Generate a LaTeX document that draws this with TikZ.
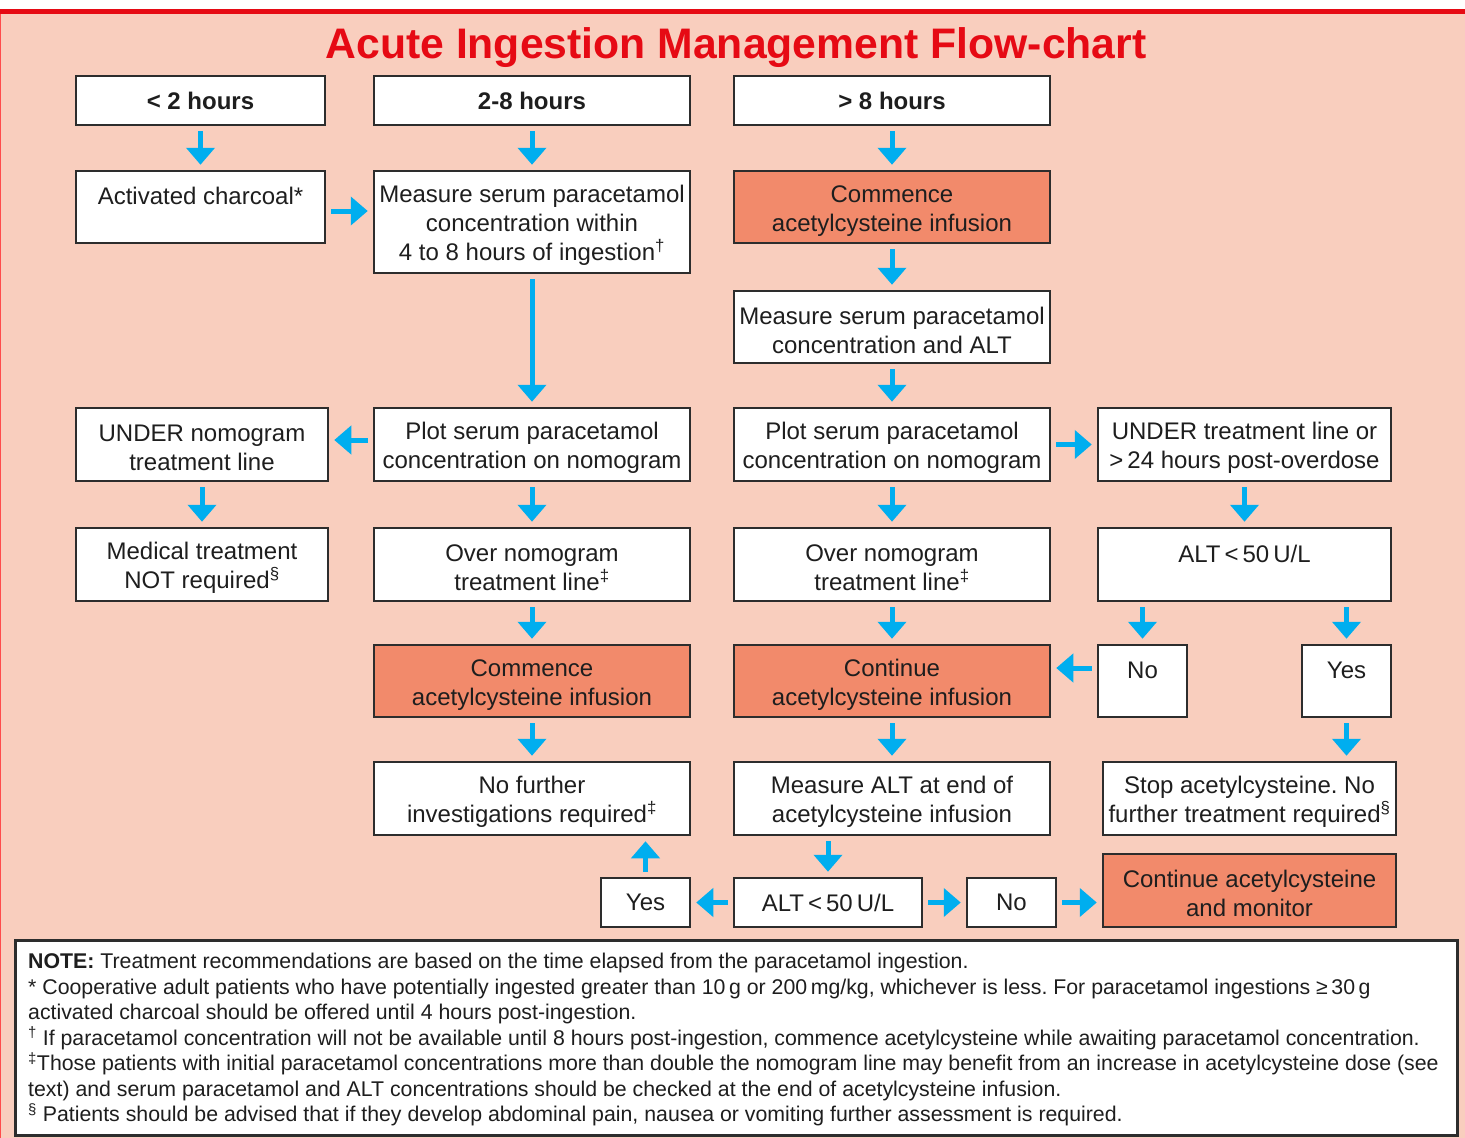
\documentclass[tikz,border=0pt]{standalone}
\usepackage{fontspec}
\setmainfont{Liberation Sans}
\usetikzlibrary{arrows.meta}
\frenchspacing
\definecolor{bgsalmon}{RGB}{249,206,190}
\definecolor{boxorange}{RGB}{242,138,107}
\definecolor{titlered}{RGB}{230,10,20}
\definecolor{arrblue}{RGB}{0,174,239}
\definecolor{edgegray}{RGB}{45,45,45}
\definecolor{txt}{RGB}{30,30,30}
\newcommand{\mybox}[7]{%
  \node[fcbox,#6,minimum width={#4-#2},minimum height={#5-#3}] (#1) at ({(#2+#4)/2},{(#3+#5)/2}) {#7};}
\newcommand{\tp}{\rule{0pt}{24pt}}
\begin{document}
\begin{tikzpicture}[x=1pt,y=-1pt,
  fcbox/.style={draw=edgegray,line width=2.5pt,fill=white,align=center,inner sep=0pt,
    text=txt,font=\fontsize{24}{29}\selectfont},
  hot/.style={fill=boxorange},
  hdr/.style={font=\fontsize{24}{29}\selectfont\bfseries},
  arr/.style={draw=arrblue,line width=5pt,-{Triangle[width=28pt,length=17pt]},
    shorten <=5pt,shorten >=5pt}]
\useasboundingbox (0,0) rectangle (1465,1138);
\fill[white] (0,0) rectangle (1465,1138);
\fill[bgsalmon] (0,12) rectangle (1465,1138);
\draw[red!70!white,line width=1.2pt] (0.6,12) -- (0.6,1138);
\draw[titlered,line width=5pt] (0,11.5) -- (1465,11.5);
\node[anchor=base,text=titlered,font=\fontsize{42.7}{50}\selectfont\bfseries,inner sep=0pt] (title) at (736,58) {Acute Ingestion Management Flow-chart};
% headers
\mybox{h1}{76}{76}{325}{125}{hdr}{< 2 hours}
\mybox{h2}{374}{76}{690}{125}{hdr}{2-8 hours}
\mybox{h3}{734}{76}{1050}{125}{hdr}{> 8 hours}
% row 2
\mybox{char}{76}{171}{325}{243}{}{\tp Activated charcoal*\\ \mbox{}}
\mybox{meas1}{374}{171}{690}{273}{}{\tp Measure serum paracetamol\\concentration within\\4 to 8 hours of ingestion\textsuperscript{†}}
\mybox{comm1}{734}{171}{1050}{243}{hot}{\tp Commence\\acetylcysteine infusion}
\mybox{meas2}{734}{291}{1050}{363}{}{\tp Measure serum paracetamol\\concentration and ALT}
% row 4
\mybox{under1}{76}{408}{328}{481}{}{\tp UNDER nomogram\\treatment line}
\mybox{plot1}{374}{408}{690}{481}{}{\tp Plot serum paracetamol\\concentration on nomogram}
\mybox{plot2}{734}{408}{1050}{481}{}{\tp Plot serum paracetamol\\concentration on nomogram}
\mybox{under2}{1098}{408}{1391}{481}{}{\tp UNDER treatment line or\\>\,24 hours post-overdose}
% row 5
\mybox{med}{76}{528}{328}{601}{}{\tp Medical treatment\\NOT required\textsuperscript{§}}
\mybox{over1}{374}{528}{690}{601}{}{\tp Over nomogram\\treatment line\textsuperscript{‡}}
\mybox{over2}{734}{528}{1050}{601}{}{\tp Over nomogram\\treatment line\textsuperscript{‡}}
\mybox{alt1}{1098}{528}{1391}{601}{}{\tp ALT\,<\,50\,U/L\\ \mbox{}}
% row 6
\mybox{comm2}{374}{645}{690}{717}{hot}{\tp Commence\\acetylcysteine infusion}
\mybox{cont}{734}{645}{1050}{717}{hot}{\tp Continue\\acetylcysteine infusion}
\mybox{no1}{1098}{645}{1187}{717}{}{\tp No\\ \mbox{}}
\mybox{yes1}{1302}{645}{1391}{717}{}{\tp Yes\\ \mbox{}}
% row 7
\mybox{nofur}{374}{762}{690}{835}{}{\tp No further\\investigations required\textsuperscript{‡}}
\mybox{malt}{734}{762}{1050}{835}{}{\tp Measure ALT at end of\\acetylcysteine infusion}
\mybox{stop}{1103}{762}{1396}{835}{}{\tp Stop acetylcysteine. No\\further treatment required\textsuperscript{§}}
% row 8
\mybox{yes2}{601}{878}{690}{927}{}{Yes}
\mybox{alt2}{734}{878}{922}{927}{}{ALT\,<\,50\,U/L}
\mybox{no2}{967}{878}{1056}{927}{}{No}
\mybox{contm}{1103}{854}{1396}{927}{hot}{\tp Continue acetylcysteine\\and monitor}
% note
\node[draw=edgegray,line width=3pt,fill=white,minimum width=1442pt,minimum height=195pt,inner sep=0pt] (notebox) at (736,1037.5) {};
\node[anchor=north west,align=left,inner sep=0pt,text=txt,font=\fontsize{21.3}{25.5}\selectfont] (notetext) at (28,953) {%
\textbf{NOTE:} Treatment recommendations are based on the time elapsed from the paracetamol ingestion.\\
* Cooperative adult patients who have potentially ingested greater than 10\,g or 200\,mg/kg, whichever is less. For paracetamol ingestions ≥\,30\,g\\
activated charcoal should be offered until 4 hours post-ingestion.\\
\textsuperscript{†} If paracetamol concentration will not be available until 8 hours post-ingestion, commence acetylcysteine while awaiting paracetamol concentration.\\
\textsuperscript{‡}Those patients with initial paracetamol concentrations more than double the nomogram line may benefit from an increase in acetylcysteine dose (see\\
text) and serum paracetamol and ALT concentrations should be checked at the end of acetylcysteine infusion.\\
\textsuperscript{§} Patients should be advised that if they develop abdominal pain, nausea or vomiting further assessment is required.};
% arrows
\draw[arr] (h1.south) -- (char.north);
\draw[arr] (h2.south) -- (meas1.north);
\draw[arr] (h3.south) -- (comm1.north);
\draw[arr] (char.east |- 0,211) -- (meas1.west |- 0,211);
\draw[arr] (meas1.south) -- (plot1.north);
\draw[arr] (plot1.west |- 0,440) -- (under1.east |- 0,440);
\draw[arr] (under1.south) -- (med.north);
\draw[arr] (plot1.south) -- (over1.north);
\draw[arr] (over1.south) -- (comm2.north);
\draw[arr] (comm2.south) -- (nofur.north);
\draw[arr] (comm1.south) -- (meas2.north);
\draw[arr] (meas2.south) -- (plot2.north);
\draw[arr] (plot2.south) -- (over2.north);
\draw[arr] (over2.south) -- (cont.north);
\draw[arr] (cont.south) -- (malt.north);
\draw[arr] (plot2.east) -- (under2.west);
\draw[arr] (under2.south) -- (alt1.north);
\draw[arr] (no1.north |- alt1.south) -- (no1.north);
\draw[arr] (yes1.north |- alt1.south) -- (yes1.north);
\draw[arr] (no1.west |- 0,668) -- (cont.east |- 0,668);
\draw[arr] (yes1.south) -- (yes1.south |- stop.north);
\draw[arr] (alt2.north |- malt.south) -- (alt2.north);
\draw[arr] (alt2.west) -- (yes2.east);
\draw[arr] (yes2.north) -- (yes2.north |- nofur.south);
\draw[arr] (alt2.east) -- (no2.west);
\draw[arr] (no2.east) -- (contm.west |- no2.east);
\end{tikzpicture}
\end{document}
